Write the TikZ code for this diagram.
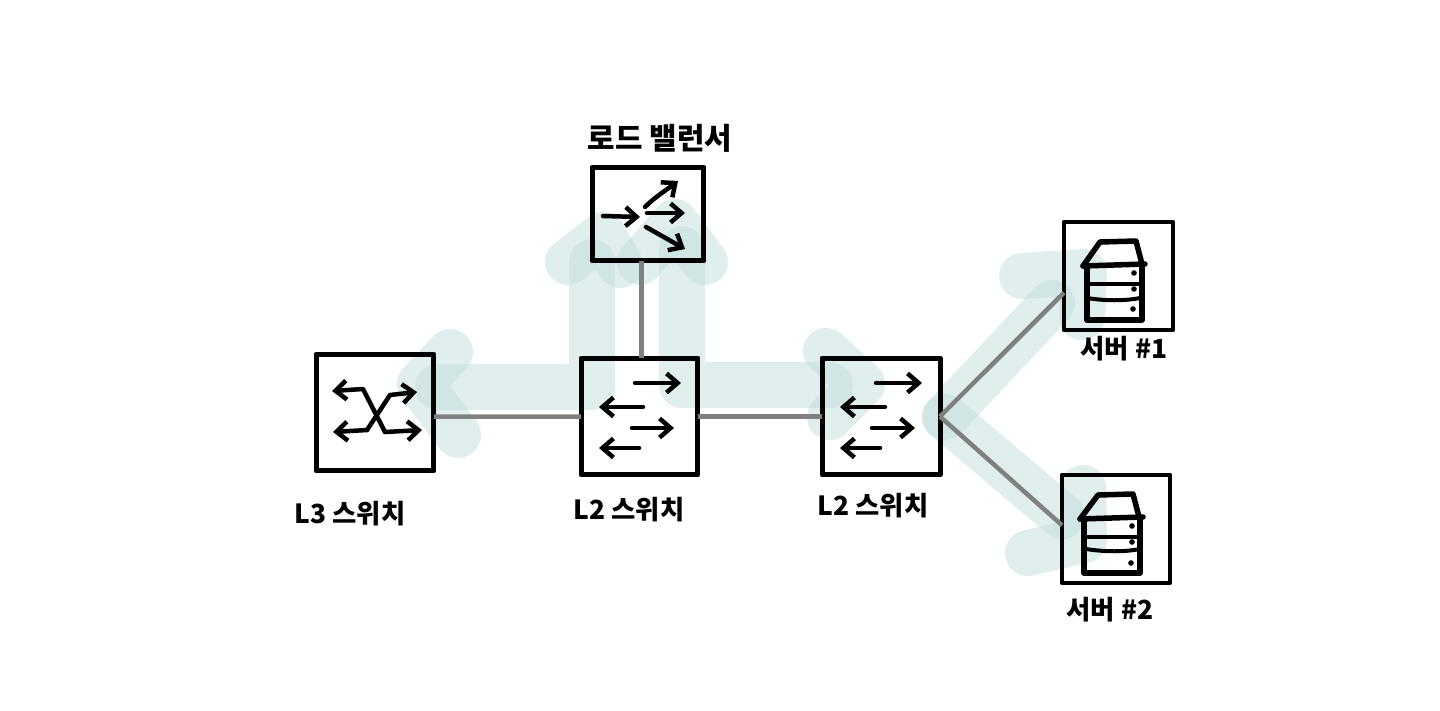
\documentclass[tikz,border=0pt]{standalone}
\usepackage{fontspec}
\newfontfamily\krfont{Noto Sans CJK KR}
\usetikzlibrary{arrows.meta}
\definecolor{flowteal}{RGB}{193,221,219}
\definecolor{linkgray}{RGB}{128,128,128}
\tikzset{
  flow/.style={draw=flowteal,opacity=0.5,line width=0.92cm,line cap=round,line join=round},
  netbox/.style={draw=black,line width=0.1cm,line join=round,inner sep=0pt,outer sep=0pt},
  link/.style={draw=linkgray,line width=0.09cm},
  sig/.style={draw=black,line width=0.09cm,line cap=round,line join=round,-{Straight Barb[length=0.22cm,width=0.38cm,line width=0.09cm]}},
  rack/.style={draw=black,line width=0.11cm,line cap=round,line join=round},
  shelf/.style={draw=black,line width=0.08cm,line cap=round},
  caption/.style={font=\krfont\bfseries\fontsize{15}{17}\selectfont,inner sep=0pt},
}
\begin{document}
\begin{tikzpicture}[x=0.02cm,y=-0.02cm]
\useasboundingbox (0,0) rectangle (1440,710);
% traffic path
\draw[flow] (826,351) -- (862,384) -- (830,417);
\draw[flow] (830,385) -- (682,385) -- (682,249);
\draw[flow] (640,262) -- (675,222) -- (705,262);
\draw[flow] (592,262) -- (592,387) -- (438,387);
\draw[flow] (568,262) -- (603,235) -- (620,265);
\draw[flow] (450,352) -- (420,384) -- (458,435);
\draw[flow] (945,417) -- (1052,303);
\draw[flow] (1022,276) -- (1084,272) -- (1082,317);
\draw[flow] (945,417) -- (1062,516);
\draw[flow] (1028,553) -- (1084,540) -- (1083,488);
% boxes
\node[netbox,minimum width=2.36cm,minimum height=2.34cm] (l3sw) at (375,412.5) {};
\node[netbox,minimum width=2.34cm,minimum height=2.34cm] (l2left) at (639.5,416.5) {};
\node[netbox,minimum width=2.36cm,minimum height=2.34cm] (l2right) at (881,416.5) {};
\node[netbox,minimum width=2.24cm,minimum height=1.88cm] (lbal) at (648,214) {};
\node[netbox,minimum width=2.18cm,minimum height=2.16cm,line width=0.09cm] (srvone) at (1118.5,276) {};
\node[netbox,minimum width=2.16cm,minimum height=2.16cm,line width=0.09cm] (srvtwo) at (1116,529) {};
% links
\draw[link] (l3sw.-4) -- (l2left.west);
\draw[link] (lbal.262) -- (lbal.262 |- l2left.north);
\draw[link] (l2left.east) -- (l2right.west);
\draw[link] (l2right.east) -- (srvone.197);
\draw[link] (l2right.east) -- (srvtwo.176);
% l3 switch icon
\draw[sig] (385,432) -- (363,389) -- (332,391);
\draw[sig] (367,430) -- (390,395) -- (417,392);
\draw[sig] (367,430) -- (333,432);
\draw[sig] (385,432) -- (422,430);
% l2 switch icons
\draw[sig] (635,383) -- (681,383);
\draw[sig] (643,407) -- (599,407);
\draw[sig] (632,428) -- (674,428);
\draw[sig] (639,448) -- (599,448);
\draw[sig] (876,383) -- (922,383);
\draw[sig] (885,407) -- (840,407);
\draw[sig] (872,428) -- (915,428);
\draw[sig] (880,448) -- (840,448);
% balancer icon
\draw[sig] (603,216) -- (640,217);
\draw[sig] (645,207) .. controls (655,197) and (665,191) .. (678,181);
\draw[sig] (647,213) -- (685,213);
\draw[sig] (646,227) -- (685,249);
% server icons
\draw[rack] (1083,266) -- (1100,242) -- (1136,241) -- (1142,264);
\draw[rack] (1083,266) -- (1145,264);
\draw[rack] (1087,266) -- (1087,320) -- (1142,320) -- (1142,264);
\draw[shelf] (1090,284) -- (1140,284);
\draw[shelf] (1087,298) .. controls (1105,301) and (1125,301) .. (1140,298);
\fill (1134,273) circle [radius=2.8];
\fill (1134,289) circle [radius=2.8];
\fill (1133,309) circle [radius=2.8];
\draw[rack] (1080,519) -- (1098,495) -- (1133,494) -- (1139,517);
\draw[rack] (1080,519) -- (1143,517);
\draw[rack] (1084,519) -- (1084,573) -- (1140,573) -- (1140,517);
\draw[shelf] (1088,537) -- (1140,537);
\draw[shelf] (1086,549) .. controls (1105,552) and (1125,552) .. (1140,549);
\fill (1132,526) circle [radius=2.8];
\fill (1132,542) circle [radius=2.8];
\fill (1131,563) circle [radius=2.8];
% labels
\node[caption] (l3txt) at (350,514) {L3 스위치};
\node[caption] (l2ltxt) at (629,510) {L2 스위치};
\node[caption] (l2rtxt) at (873,506) {L2 스위치};
\node[caption,font=\krfont\bfseries\fontsize{17}{19}\selectfont] (lbtxt) at (660,138) {로드 밸런서};
\node[caption] (onetxt) at (1124,349) {서버 \#1};
\node[caption] (twotxt) at (1110,610) {서버 \#2};
\end{tikzpicture}
\end{document}
